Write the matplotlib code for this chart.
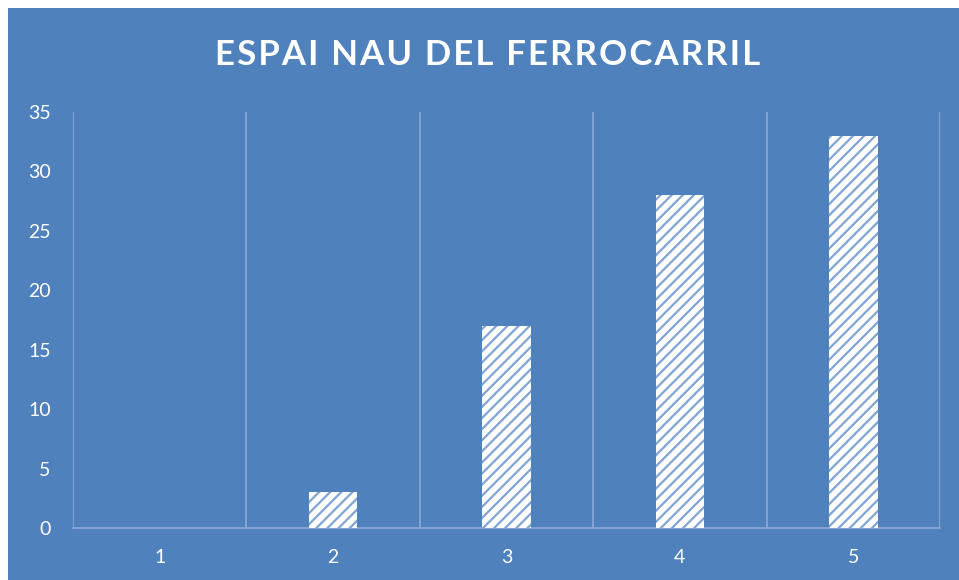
import matplotlib.pyplot as plt
import matplotlib.patches as mpatches
import numpy as np

title = 'ESPAI NAU DEL FERROCARRIL'
categories = ['1', '2', '3', '4', '5']
values = [0, 3, 17, 28, 33]
y_ticks = [0, 5, 10, 15, 20, 25, 30, 35]

BLUE = '#4F81BD'
GRID = '#8EA9D6'
HATCH = '#80A4D4'

plt.rcParams['font.family'] = ['Lato', 'DejaVu Sans']
plt.rcParams['hatch.linewidth'] = 1.6

fig = plt.figure(figsize=(9.59, 5.8), dpi=100)
fig.patch.set_facecolor('white')
# blue chart area with thin white margin on top/left
fig.patches.append(mpatches.Rectangle((8 / 959, 0), 1 - 8 / 959, 1 - 8 / 580,
                                      transform=fig.transFigure, facecolor=BLUE,
                                      edgecolor='none', zorder=-10))

ax = fig.add_axes([73 / 959, 52 / 580, 867 / 959, 416 / 580])
ax.set_facecolor('none')

x = np.arange(len(categories))
ax.bar(x, values, width=0.28, facecolor='white', edgecolor=HATCH,
       hatch='///', linewidth=0, zorder=3)

ax.set_xlim(-0.5, len(categories) - 0.5)
ax.set_ylim(0, 35)
ax.set_yticks(y_ticks)
ax.set_xticks(x)
ax.set_xticklabels(categories)
ax.set_xticks(np.arange(-0.5, len(categories)), minor=True)
ax.grid(which='minor', axis='x', color=GRID, linewidth=1.2, zorder=1)
ax.grid(which='major', axis='both', visible=False)

for side in ['top', 'right', 'left']:
    ax.spines[side].set_visible(False)
ax.spines['bottom'].set_color(GRID)
ax.spines['bottom'].set_linewidth(1.2)

ax.tick_params(axis='both', which='both', length=0, colors='white', labelsize=14)
ax.tick_params(axis='x', pad=15)
ax.tick_params(axis='y', pad=16)

# spaced-out letters like the original title
spaced = '\u200a'.join(title)
fig.text(488 / 959, 1 - 55 / 580, spaced, ha='center', va='center',
         color='white', fontsize=25, fontweight='bold')

fig.savefig('out.png', dpi=100, facecolor='white')
